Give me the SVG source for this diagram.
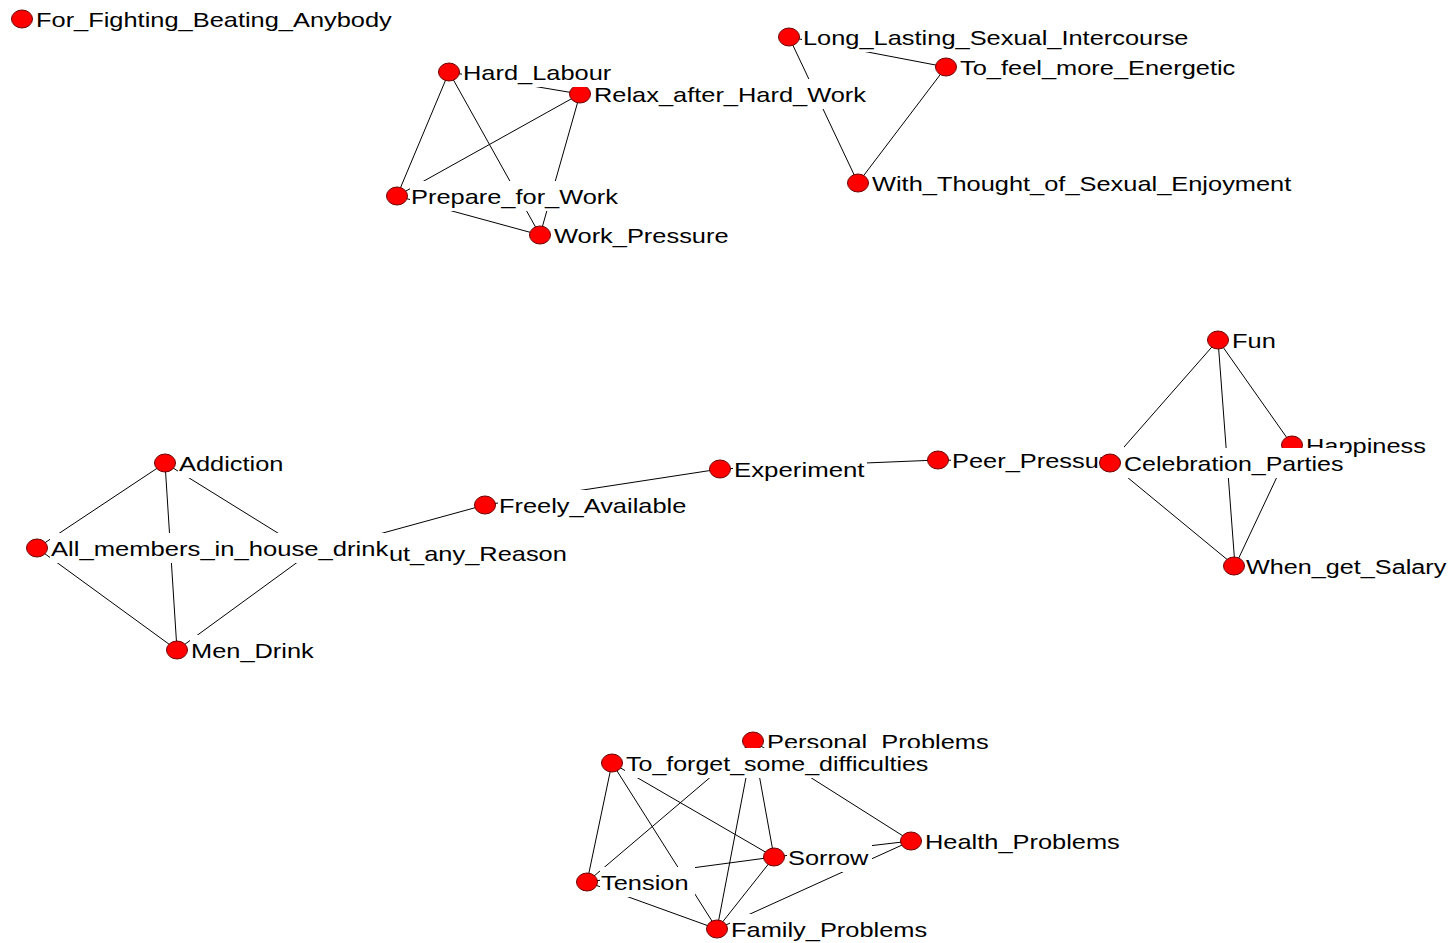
<svg xmlns="http://www.w3.org/2000/svg" width="1452" height="943" viewBox="0 0 1452 943">
<style>
.e{stroke:#000;stroke-width:1;fill:none}
.bg{fill:#fff}
.n{fill:#ff0000;stroke:#6e0000;stroke-width:1}
.t{font-family:"Liberation Sans",Arial,sans-serif;font-size:21px;fill:#000}
</style>
<rect width="1452" height="943" fill="#fff"/>
<g id="connectors">
<line class="e" x1="449" y1="72" x2="580" y2="94"/>
<line class="e" x1="449" y1="72" x2="397" y2="196"/>
<line class="e" x1="449" y1="72" x2="540" y2="235"/>
<line class="e" x1="580" y1="94" x2="397" y2="196"/>
<line class="e" x1="580" y1="94" x2="540" y2="235"/>
<line class="e" x1="397" y1="196" x2="540" y2="235"/>
<line class="e" x1="789" y1="37" x2="946" y2="67"/>
<line class="e" x1="789" y1="37" x2="858" y2="183"/>
<line class="e" x1="946" y1="67" x2="858" y2="183"/>
<line class="e" x1="165" y1="463" x2="37" y2="548"/>
<line class="e" x1="165" y1="463" x2="177" y2="650"/>
<line class="e" x1="165" y1="463" x2="310" y2="553"/>
<line class="e" x1="37" y1="548" x2="177" y2="650"/>
<line class="e" x1="177" y1="650" x2="310" y2="553"/>
<line class="e" x1="310" y1="553" x2="485" y2="505"/>
<line class="e" x1="485" y1="505" x2="720" y2="469"/>
<line class="e" x1="720" y1="469" x2="938" y2="460"/>
<line class="e" x1="938" y1="460" x2="1110" y2="463"/>
<line class="e" x1="1110" y1="463" x2="1218" y2="340"/>
<line class="e" x1="1110" y1="463" x2="1235" y2="566"/>
<line class="e" x1="1218" y1="340" x2="1292" y2="445"/>
<line class="e" x1="1218" y1="340" x2="1235" y2="566"/>
<line class="e" x1="1292" y1="445" x2="1235" y2="566"/>
<line class="e" x1="612" y1="763" x2="587" y2="882"/>
<line class="e" x1="612" y1="763" x2="717" y2="929"/>
<line class="e" x1="612" y1="763" x2="774" y2="857"/>
<line class="e" x1="753" y1="741" x2="587" y2="882"/>
<line class="e" x1="753" y1="741" x2="717" y2="929"/>
<line class="e" x1="753" y1="741" x2="774" y2="857"/>
<line class="e" x1="753" y1="741" x2="911" y2="841"/>
<line class="e" x1="774" y1="857" x2="911" y2="841"/>
<line class="e" x1="911" y1="841" x2="717" y2="929"/>
<line class="e" x1="587" y1="882" x2="774" y2="857"/>
<line class="e" x1="587" y1="882" x2="717" y2="929"/>
<line class="e" x1="774" y1="857" x2="717" y2="929"/>
</g>
<g id="For_Fighting_Beating_Anybody"><rect class="bg" x="35" y="4" width="360" height="30"/><ellipse class="n" cx="22" cy="19" rx="10.5" ry="9"/><text class="t" transform="translate(36 27) scale(1.21 1)">For_Fighting_Beating_Anybody</text></g>
<g id="Relax_after_Hard_Work"><rect class="bg" x="593" y="79" width="272" height="30"/><ellipse class="n" cx="580" cy="94" rx="10.5" ry="9"/><text class="t" transform="translate(594 102) scale(1.21 1)">Relax_after_Hard_Work</text></g>
<g id="Hard_Labour"><rect class="bg" x="462" y="57" width="152" height="30"/><ellipse class="n" cx="449" cy="72" rx="10.5" ry="9"/><text class="t" transform="translate(463 80) scale(1.21 1)">Hard_Labour</text></g>
<g id="Prepare_for_Work"><rect class="bg" x="410" y="181" width="211" height="30"/><ellipse class="n" cx="397" cy="196" rx="10.5" ry="9"/><text class="t" transform="translate(411 204) scale(1.21 1)">Prepare_for_Work</text></g>
<g id="Work_Pressure"><rect class="bg" x="553" y="220" width="179" height="30"/><ellipse class="n" cx="540" cy="235" rx="10.5" ry="9"/><text class="t" transform="translate(554 243) scale(1.21 1)">Work_Pressure</text></g>
<g id="Long_Lasting_Sexual_Intercourse"><rect class="bg" x="802" y="22" width="389" height="30"/><ellipse class="n" cx="789" cy="37" rx="10.5" ry="9"/><text class="t" transform="translate(803 45) scale(1.21 1)">Long_Lasting_Sexual_Intercourse</text></g>
<g id="To_feel_more_Energetic"><rect class="bg" x="959" y="52" width="282" height="30"/><ellipse class="n" cx="946" cy="67" rx="10.5" ry="9"/><text class="t" transform="translate(960 75) scale(1.21 1)">To_feel_more_Energetic</text></g>
<g id="With_Thought_of_Sexual_Enjoyment"><rect class="bg" x="871" y="168" width="423" height="30"/><ellipse class="n" cx="858" cy="183" rx="10.5" ry="9"/><text class="t" transform="translate(872 191) scale(1.21 1)">With_Thought_of_Sexual_Enjoyment</text></g>
<g id="Fun"><rect class="bg" x="1231" y="325" width="48" height="30"/><ellipse class="n" cx="1218" cy="340" rx="10.5" ry="9"/><text class="t" transform="translate(1232 348) scale(1.21 1)">Fun</text></g>
<g id="Happiness"><rect class="bg" x="1305" y="430" width="124" height="30"/><ellipse class="n" cx="1292" cy="445" rx="10.5" ry="9"/><text class="t" transform="translate(1306 453) scale(1.21 1)">Happiness</text></g>
<g id="Peer_Pressure"><rect class="bg" x="951" y="445" width="173" height="30"/><ellipse class="n" cx="938" cy="460" rx="10.5" ry="9"/><text class="t" transform="translate(952 468) scale(1.21 1)">Peer_Pressure</text></g>
<g id="Celebration_Parties"><rect class="bg" x="1123" y="448" width="222" height="30"/><ellipse class="n" cx="1110" cy="463" rx="10.5" ry="9"/><text class="t" transform="translate(1124 471) scale(1.19 1)">Celebration_Parties</text></g>
<g id="When_get_Salary"><rect class="bg" x="1246" y="551" width="204" height="30"/><ellipse class="n" cx="1234" cy="566" rx="10.5" ry="9"/><text class="t" transform="translate(1246 574) scale(1.2 1)">When_get_Salary</text></g>
<g id="Experiment"><rect class="bg" x="733" y="454" width="134" height="30"/><ellipse class="n" cx="720" cy="469" rx="10.5" ry="9"/><text class="t" transform="translate(734 477) scale(1.23 1)">Experiment</text></g>
<g id="Freely_Available"><rect class="bg" x="498" y="490" width="191" height="30"/><ellipse class="n" cx="485" cy="505" rx="10.5" ry="9"/><text class="t" transform="translate(499 513) scale(1.21 1)">Freely_Available</text></g>
<g id="Without_any_Reason"><rect class="bg" x="323" y="538" width="246" height="30"/><ellipse class="n" cx="310" cy="553" rx="10.5" ry="9"/><text class="t" transform="translate(324 561) scale(1.21 1)">Without_any_Reason</text></g>
<g id="Addiction"><rect class="bg" x="178" y="448" width="109" height="30"/><ellipse class="n" cx="165" cy="463" rx="10.5" ry="9"/><text class="t" transform="translate(179 471) scale(1.21 1)">Addiction</text></g>
<g id="All_members_in_house_drink"><rect class="bg" x="50" y="533" width="340" height="30"/><ellipse class="n" cx="37" cy="548" rx="10.5" ry="9"/><text class="t" transform="translate(51 556) scale(1.22 1)">All_members_in_house_drink</text></g>
<g id="Men_Drink"><rect class="bg" x="190" y="635" width="127" height="30"/><ellipse class="n" cx="177" cy="650" rx="10.5" ry="9"/><text class="t" transform="translate(191 658) scale(1.21 1)">Men_Drink</text></g>
<g id="Personal_Problems"><rect class="bg" x="766" y="726" width="226" height="30"/><ellipse class="n" cx="753" cy="741" rx="10.5" ry="9"/><text class="t" transform="translate(767 749) scale(1.21 1)">Personal_Problems</text></g>
<g id="To_forget_some_difficulties"><rect class="bg" x="625" y="748" width="310" height="30"/><ellipse class="n" cx="612" cy="763" rx="10.5" ry="9"/><text class="t" transform="translate(626 771) scale(1.19 1)">To_forget_some_difficulties</text></g>
<g id="Tension"><rect class="bg" x="600" y="867" width="95" height="30"/><ellipse class="n" cx="587" cy="882" rx="10.5" ry="9"/><text class="t" transform="translate(601 890) scale(1.21 1)">Tension</text></g>
<g id="Sorrow"><rect class="bg" x="787" y="842" width="85" height="30"/><ellipse class="n" cx="774" cy="857" rx="10.5" ry="9"/><text class="t" transform="translate(788 865) scale(1.21 1)">Sorrow</text></g>
<g id="Health_Problems"><rect class="bg" x="924" y="826" width="198" height="30"/><ellipse class="n" cx="911" cy="841" rx="10.5" ry="9"/><text class="t" transform="translate(925 849) scale(1.21 1)">Health_Problems</text></g>
<g id="Family_Problems"><rect class="bg" x="730" y="914" width="199" height="29"/><ellipse class="n" cx="717" cy="929" rx="10.5" ry="9"/><text class="t" transform="translate(731 937) scale(1.21 1)">Family_Problems</text></g>
</svg>
